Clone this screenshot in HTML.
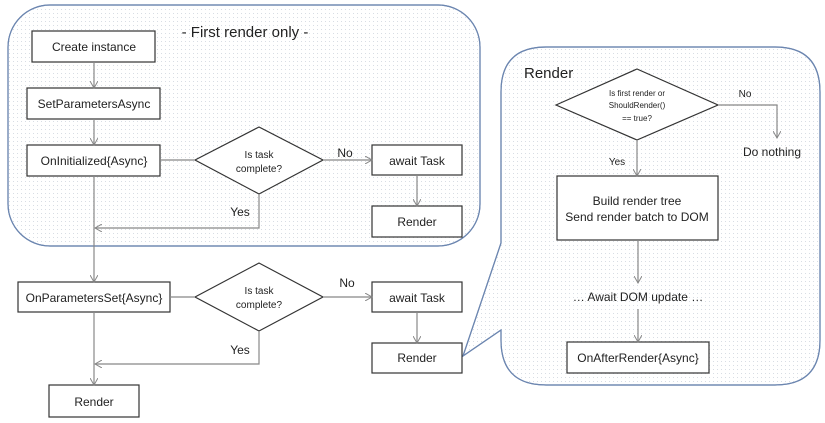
<!DOCTYPE html>
<html><head><meta charset="utf-8"><style>
html,body{margin:0;padding:0;background:#fff;}
svg{display:block;font-family:"Liberation Sans",sans-serif;}
</style></head><body>
<svg width="825" height="423" viewBox="0 0 825 423" xmlns="http://www.w3.org/2000/svg">
<defs>
<pattern id="dots" width="4" height="4" patternUnits="userSpaceOnUse"><rect x="1" y="1" width="1" height="1" fill="#d8dde4"/></pattern>
<marker id="ar" markerWidth="8" markerHeight="8" refX="7" refY="4" orient="auto" markerUnits="userSpaceOnUse"><path d="M0,0 L7,4 L0,8" fill="none" stroke="#888" stroke-width="1"/></marker>
</defs>
<g stroke="#6c86b0" stroke-width="1.2">
<rect x="8" y="5" width="472" height="241" rx="42" fill="#fff"/>
<rect x="8" y="5" width="472" height="241" rx="42" fill="url(#dots)"/>
<path d="M546,47 H775 Q820,47 820,92 V340 Q820,385 775,385 H546 Q501,385 501,340 V330 L463,356 L501,243 V92 Q501,47 546,47 Z" fill="#fff"/>
<path d="M546,47 H775 Q820,47 820,92 V340 Q820,385 775,385 H546 Q501,385 501,340 V330 L463,356 L501,243 V92 Q501,47 546,47 Z" fill="url(#dots)"/>
</g>
<g fill="#fff" stroke="#333" stroke-width="1.2">
<rect x="32" y="31" width="123" height="31"/>
<rect x="27" y="88" width="133" height="31"/>
<rect x="27" y="145" width="133" height="31"/>
<polygon points="195,160 259,127 323,160 259,194"/>
<rect x="372" y="145" width="90" height="30"/>
<rect x="372" y="206" width="90" height="31"/>
<rect x="18" y="282" width="152" height="30"/>
<polygon points="195,297 259,263 323,297 259,331"/>
<rect x="372" y="282" width="90" height="30"/>
<rect x="372" y="343" width="90" height="30"/>
<rect x="49" y="385" width="90" height="32"/>
<polygon points="556,105 637,69 718,105 637,140"/>
<rect x="557" y="176" width="161" height="64"/>
<rect x="567" y="342" width="142" height="31"/>
</g>
<g stroke="#888" stroke-width="1.2" fill="none">
<line x1="94" y1="62" x2="94" y2="88" marker-end="url(#ar)"/>
<line x1="94" y1="119" x2="94" y2="145" marker-end="url(#ar)"/>
<line x1="160" y1="160" x2="195" y2="160"/>
<line x1="323" y1="160" x2="372" y2="160" marker-end="url(#ar)"/>
<line x1="417" y1="175" x2="417" y2="206" marker-end="url(#ar)"/>
<polyline points="259,194 259,228 95,228" marker-end="url(#ar)"/>
<line x1="94" y1="176" x2="94" y2="282" marker-end="url(#ar)"/>
<line x1="170" y1="297" x2="195" y2="297"/>
<line x1="323" y1="297" x2="372" y2="297" marker-end="url(#ar)"/>
<line x1="417" y1="312" x2="417" y2="343" marker-end="url(#ar)"/>
<polyline points="259,331 259,364 95,364" marker-end="url(#ar)"/>
<line x1="94" y1="312" x2="94" y2="385" marker-end="url(#ar)"/>
<polyline points="718,105 777,105 777,138" marker-end="url(#ar)"/>
<line x1="637" y1="140" x2="637" y2="176" marker-end="url(#ar)"/>
<line x1="638" y1="240" x2="638" y2="283" marker-end="url(#ar)"/>
<line x1="638" y1="309" x2="638" y2="342" marker-end="url(#ar)"/>
</g>
<g fill="#222" font-size="12" text-anchor="middle">
<text x="94" y="51">Create instance</text>
<text x="94" y="108">SetParametersAsync</text>
<text x="94" y="165">OnInitialized{Async}</text>
<text x="259" y="158" font-size="10">Is task</text>
<text x="259" y="172" font-size="10">complete?</text>
<text x="417" y="165">await Task</text>
<text x="417" y="226">Render</text>
<text x="345" y="157">No</text>
<text x="240" y="216">Yes</text>
<text x="245" y="37" font-size="15">- First render only -</text>
<text x="94" y="302">OnParametersSet{Async}</text>
<text x="259" y="294" font-size="10">Is task</text>
<text x="259" y="308" font-size="10">complete?</text>
<text x="417" y="302">await Task</text>
<text x="417" y="362">Render</text>
<text x="347" y="287">No</text>
<text x="240" y="354">Yes</text>
<text x="94" y="406">Render</text>
<text x="637" y="96" font-size="8">Is first render or</text>
<text x="637" y="108" font-size="8">ShouldRender()</text>
<text x="637" y="121" font-size="8">== true?</text>
<text x="745" y="97" font-size="10">No</text>
<text x="772" y="156">Do nothing</text>
<text x="617" y="165" font-size="10">Yes</text>
<text x="637" y="205">Build render tree</text>
<text x="637" y="221">Send render batch to DOM</text>
<text x="638" y="301">… Await DOM update …</text>
<text x="638" y="362">OnAfterRender{Async}</text>
<text x="524" y="78" font-size="15" text-anchor="start">Render</text>
</g>
</svg>
</body></html>
